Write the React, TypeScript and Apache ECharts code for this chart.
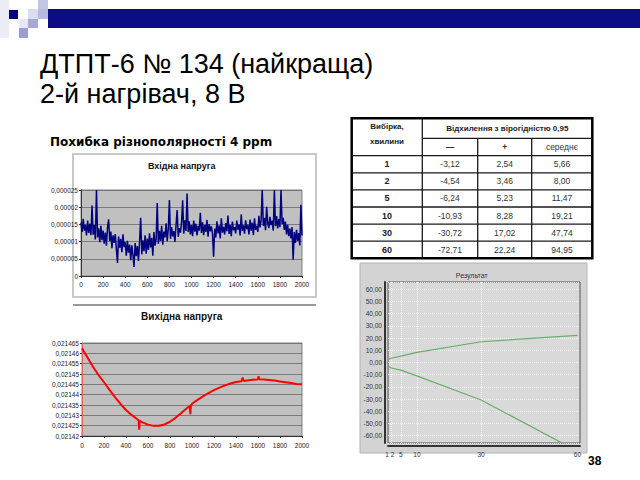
import React, { useEffect, useRef } from "react";
import * as echarts from "echarts";

// ---------- DATA ----------
const TITLE_LINES = ["ДТПТ-6 № 134 (найкраща)", "2-й нагрівач, 8 В"];
const SUBTITLE = "Похибка різнополярності 4 ppm";
const INPUT_TITLE = "Вхідна напруга";
const OUTPUT_TITLE = "Вихідна напруга";
const RESULT_TITLE = "Результат";
const PAGE_NUMBER = "38";

// Input voltage, in micro-units (x 1e-6), sampled every 10 points
const INPUT_STEP = 10;
const inputMicro = [
  15.5, 12.8, 16.6, 13.2, 14.9, 11.8, 16.1, 12.5, 15.2, 11.9,
  20.5, 12.0, 14.8, 10.6, 25.0, 11.2, 13.9, 9.8, 14.6, 10.4,
  13.2, 9.4, 12.6, 8.8, 14.1, 16.5, 10.2, 12.9, 8.1, 11.8,
  9.6, 12.2, 7.9, 3.8, 11.5, 8.2, 10.8, 6.9, 12.1, 8.4,
  9.8, 5.9, 10.2, 6.8, 9.1, 4.6, 8.9, 6.1, 2.6, 9.6,
  5.8, 8.7, 4.4, 9.9, 16.9, 6.3, 10.4, 7.2, 11.8, 6.5,
  10.9, 7.6, 12.4, 8.3, 11.1, 5.9, 12.8, 8.8, 10.6, 21.2,
  9.4, 13.1, 10.2, 14.6, 9.1, 12.9, 11.2, 15.3, 10.1, 13.6,
  22.1, 10.8, 14.2, 11.5, 13.1, 9.9, 14.8, 19.2, 11.4, 13.9,
  12.6, 15.7, 22.0, 12.3, 16.2, 13.1, 24.0, 12.8, 15.9, 12.1,
  14.8, 11.6, 16.1, 12.9, 15.2, 11.8, 14.6, 13.2, 18.4, 12.5,
  15.6, 11.9, 14.9, 12.8, 16.3, 11.4, 15.1, 13.0, 14.4, 12.2,
  5.6, 13.8, 11.2, 15.9, 12.4, 14.7, 10.9, 16.8, 12.6, 14.3,
  12.1, 15.4, 13.0, 17.6, 12.2, 14.9, 11.6, 15.8, 13.3, 14.2,
  12.4, 16.1, 13.5, 15.0, 11.8, 17.9, 13.1, 14.7, 12.3, 16.2,
  13.6, 14.9, 12.1, 16.4, 13.2, 15.5, 11.9, 16.8, 13.4, 14.6,
  12.8, 17.5, 14.1, 16.2, 25.0, 14.6, 16.9, 13.3, 20.1, 15.4,
  13.9, 17.2, 14.8, 16.1, 13.2, 25.0, 14.5, 17.4, 13.8, 16.6,
  14.2, 25.0, 15.1, 16.9, 13.4, 15.8, 12.1, 14.9, 11.6, 13.8,
  10.9, 14.2, 4.7, 12.8, 9.6, 13.4, 10.2, 12.5, 8.9, 20.7,
  11.8,
];

// Output voltage [sample, value x 1e-6]
const outputPoints: [number, number][] = [
  [0, 21462.4], [50, 21458], [100, 21453.5], [150, 21449.5], [200, 21446],
  [250, 21442.3], [300, 21438.8], [350, 21435.5], [400, 21432.6], [450, 21430.2],
  [500, 21428.2], [515, 21427.5], [520, 21423], [525, 21427.3], [550, 21426.6],
  [600, 21425.5], [650, 21424.9], [700, 21425], [750, 21425.6], [800, 21426.9],
  [850, 21428.8], [900, 21431], [950, 21433.3], [980, 21434.5], [985, 21430.5],
  [990, 21434.7], [1000, 21435.6], [1050, 21437.5], [1100, 21439.2], [1150, 21440.8],
  [1200, 21442.2], [1250, 21443.4], [1300, 21444.5], [1350, 21445.4], [1400, 21446.1],
  [1450, 21446.5], [1460, 21448.3], [1470, 21446.6], [1500, 21446.9], [1550, 21447.2],
  [1600, 21447.4], [1605, 21449], [1610, 21447.4], [1650, 21447.3], [1700, 21447.1],
  [1750, 21446.8], [1800, 21446.4], [1850, 21446], [1900, 21445.6], [1950, 21445.2],
  [2000, 21445],
];

// Table / result data
const sampleMinutes = [1, 2, 5, 10, 30, 60];
const devMinus = [-3.12, -4.54, -6.24, -10.93, -30.72, -72.71];
const devPlus = [2.54, 3.46, 5.23, 8.28, 17.02, 22.24];
const devMean = [5.66, 8.0, 11.47, 19.21, 47.74, 94.95];
const TABLE_HEAD_1 = "Вибірка,";
const TABLE_HEAD_1b = "хвилини";
const TABLE_HEAD_2 = "Відхилення з вірогідністю 0,95";
const TABLE_SUBHEADS = ["—", "+", "середнє"];
const resultGridX = [2, 5, 10, 30];

// ---------- HELPERS ----------
const ARIAL = '"Liberation Sans", Arial, sans-serif';
const comma2 = (v: number) => v.toFixed(2).replace(".", ",");
const microLabel = (v: number) =>
  v === 0 ? "0" : String(parseFloat((v / 1e6).toFixed(6))).replace(".", ",");
const plain = (v: number) => String(v);

const text = (
  t: string, x: number, y: number, font: string, fill = "#000",
  align = "left", z = 100
) => ({
  type: "text", x, y, z, silent: true,
  style: { text: t, font, fill, align, verticalAlign: "middle", textAlign: align, textVerticalAlign: "middle" },
});
const rect = (x: number, y: number, w: number, h: number, style: any, z = -10) => ({
  type: "rect", z, silent: true, shape: { x, y, width: w, height: h }, style,
});
const line = (x1: number, y1: number, x2: number, y2: number, stroke: string, lineWidth: number, z = 50) => ({
  type: "line", z, silent: true, shape: { x1, y1, x2, y2 }, style: { stroke, lineWidth },
});

function buildGraphics() {
  const g: any[] = [];
  // decoration
  g.push(rect(0, 0, 9, 38, { fill: "#ececf5" }, -20));
  g.push(rect(48, 9, 592, 19, { fill: "#0c0c84" }, -20));
  g.push(rect(38, 0, 10, 9, { fill: "#c4c4e4" }, -19));
  g.push(rect(28, 9, 10, 10, { fill: "#dcdcf0" }, -19));
  g.push(rect(38, 9, 10, 10, { fill: "#b8b8e0" }, -19));
  g.push(rect(9, 10, 9, 9, { fill: "#000080" }, -19));
  g.push(rect(19, 19, 9, 9, { fill: "#e6e6f4" }, -19));
  g.push(rect(28, 19, 10, 9, { fill: "#a8a8d8" }, -19));
  g.push(rect(19, 28, 9, 10, { fill: "#9c9cd0" }, -19));

  // titles
  g.push(text(TITLE_LINES[0], 40, 64, `27px ${ARIAL}`));
  g.push(text(TITLE_LINES[1], 40, 94, `27px ${ARIAL}`));
  g.push(text(SUBTITLE, 50, 141.5, 'bold 12px "DejaVu Sans", sans-serif'));

  // chart 1 frame
  g.push(rect(73, 154, 243, 143, { fill: "#fff", stroke: "#c8c8c8", lineWidth: 2 }, -10));
  g.push(text(INPUT_TITLE, 181.7, 166, `bold 9px ${ARIAL}`, "#111", "center"));
  // chart 2 top line
  g.push(line(73, 305, 316, 305, "#777", 1.5, -5));
  g.push(text(OUTPUT_TITLE, 181.7, 316.7, `bold 10px ${ARIAL}`, "#111", "center"));

  // result panel
  g.push(rect(360, 263, 227, 190, { fill: "#d3d3d3", stroke: "#b4b4b4", lineWidth: 1 }, -10));
  g.push(text(RESULT_TITLE, 471.7, 275, `7px ${ARIAL}`, "#333", "center"));

  // table
  const cols = [351.7, 422.3, 477.7, 531.7, 592.3];
  const top = 118.3, hdr1 = 138.3, hdr2 = 155.7, rowH = 17.1;
  const bottom = hdr2 + rowH * sampleMinutes.length;
  g.push(rect(cols[0], top, cols[4] - cols[0], bottom - top, { fill: "#fff" }, -10));
  const ink = "#1a1a1a";
  g.push(line(cols[1], hdr1, cols[4], hdr1, ink, 1.3));
  g.push(line(cols[0], hdr2, cols[4], hdr2, ink, 1.3));
  for (let i = 1; i < sampleMinutes.length; i++) {
    const y = hdr2 + rowH * i;
    g.push(line(cols[0], y, cols[4], y, ink, 1.3));
  }
  g.push(line(cols[1], top, cols[1], bottom, ink, 1.3));
  g.push(line(cols[2], hdr1, cols[2], bottom, ink, 1.3));
  g.push(line(cols[3], hdr1, cols[3], bottom, ink, 1.3));
  g.push(rect(cols[0], top, cols[4] - cols[0], bottom - top, { fill: "none", stroke: "#000", lineWidth: 2.5 }, 60));

  const cx = [0, 1, 2, 3].map((i) => (cols[i] + cols[i + 1]) / 2);
  const hb = `bold 8px ${ARIAL}`;
  g.push(text(TABLE_HEAD_1, cx[0], 126.7, hb, "#222", "center"));
  g.push(text(TABLE_HEAD_1b, cx[0], 141, hb, "#222", "center"));
  g.push(text(TABLE_HEAD_2, (cols[1] + cols[4]) / 2, 128, hb, "#222", "center"));
  TABLE_SUBHEADS.forEach((s, i) => g.push(text(s, cx[i + 1], 147, `${i === 2 ? "" : "bold "}8.5px ${ARIAL}`, "#333", "center")));
  sampleMinutes.forEach((m, r) => {
    const y = hdr2 + rowH * r + rowH / 2;
    g.push(text(String(m), cx[0], y, `bold 9px ${ARIAL}`, "#222", "center"));
    g.push(text(comma2(devMinus[r]), cx[1], y, `8.5px ${ARIAL}`, "#333", "center"));
    g.push(text(comma2(devPlus[r]), cx[2], y, `8.5px ${ARIAL}`, "#333", "center"));
    g.push(text(comma2(devMean[r]), cx[3], y, `8.5px ${ARIAL}`, "#333", "center"));
  });

  g.push(text(PAGE_NUMBER, 588, 460.5, `bold 12px ${ARIAL}`, "#000", "left"));
  return g;
}

function buildOption(): any {
  const small = { fontSize: 6.5, color: "#222", fontFamily: ARIAL };
  const green = "#6aae6a";
  return {
    animation: false,
    backgroundColor: "#fff",
    graphic: { elements: buildGraphics() },
    grid: [
      { left: 81, top: 190, width: 221, height: 86, show: true, backgroundColor: "#c0c0c0", borderColor: "#808080", borderWidth: 1 },
      { left: 82, top: 343, width: 220, height: 93, show: true, backgroundColor: "#c0c0c0", borderColor: "#808080", borderWidth: 1 },
      { left: 388, top: 282, width: 192, height: 161, show: true, backgroundColor: "#d9d9d9", borderColor: "#555", borderWidth: 1 },
    ],
    xAxis: [
      {
        gridIndex: 0, type: "value", min: 0, max: 2000, interval: 200,
        axisLine: { lineStyle: { color: "#333", width: 1 } },
        axisTick: { show: true, length: 2, lineStyle: { color: "#333" } },
        axisLabel: { ...small, margin: 5, formatter: plain },
        splitLine: { show: false },
      },
      {
        gridIndex: 1, type: "value", min: 0, max: 2000, interval: 200,
        axisLine: { lineStyle: { color: "#333", width: 1 } },
        axisTick: { show: true, length: 2, lineStyle: { color: "#333" } },
        axisLabel: { ...small, margin: 6, formatter: plain },
        splitLine: { show: false },
      },
      {
        gridIndex: 2, type: "value", min: 1, max: 60.8, offset: 3,
        axisLine: { onZero: false, lineStyle: { color: "#333", width: 2 } },
        axisTick: { show: false },
        axisLabel: {
          ...small, color: "#333", margin: 5, showMinLabel: true, hideOverlap: false,
          customValues: sampleMinutes.filter((m) => m !== 2),
          formatter: (v: number) => (v === 1 ? "  1 2" : String(v)),
        },
        splitLine: { show: false },
      },
    ],
    yAxis: [
      {
        gridIndex: 0, type: "value", min: 0, max: 25, interval: 5,
        axisLine: { show: true, lineStyle: { color: "#333", width: 1 } },
        axisTick: { show: true, length: 2, lineStyle: { color: "#333" } },
        axisLabel: { ...small, margin: 3, formatter: microLabel },
        splitLine: { lineStyle: { color: "#6a6a6a", width: 0.8 } },
      },
      {
        gridIndex: 1, type: "value", min: 21420, max: 21465, interval: 5,
        axisLine: { show: true, lineStyle: { color: "#e06a6a", width: 1.2 } },
        axisTick: { show: true, length: 2, lineStyle: { color: "#333" } },
        axisLabel: { ...small, margin: 3, formatter: microLabel },
        splitLine: { lineStyle: { color: "#6a6a6a", width: 0.8 } },
      },
      {
        gridIndex: 2, type: "value", min: -66, max: 66, splitNumber: 13, minInterval: 10, maxInterval: 10, offset: 3,
        axisLine: { show: true, onZero: false, lineStyle: { color: "#333", width: 2 } },
        axisTick: { show: false },
        axisLabel: { ...small, color: "#333", margin: 3, showMinLabel: false, showMaxLabel: false, formatter: (v: number) => comma2(v) },
        splitLine: { lineStyle: { color: "#f4f4f4", width: 1, type: "dotted" } },
      },
    ],
    series: [
      {
        type: "line", xAxisIndex: 0, yAxisIndex: 0, showSymbol: false, silent: true,
        data: inputMicro.map((v, i) => [i * INPUT_STEP, v]),
        lineStyle: { color: "#000080", width: 1.5 },
      },
      {
        type: "line", xAxisIndex: 1, yAxisIndex: 1, showSymbol: false, silent: true,
        data: outputPoints,
        lineStyle: { color: "#ff0000", width: 2 },
      },
      {
        type: "line", xAxisIndex: 2, yAxisIndex: 2, showSymbol: false, silent: true,
        data: sampleMinutes.map((m, i) => [m, devPlus[i]]),
        lineStyle: { color: green, width: 1.2 },
        markLine: {
          silent: true, symbol: "none", label: { show: false },
          lineStyle: { color: "#f4f4f4", width: 1, type: "dotted" },
          data: resultGridX.map((x) => ({ xAxis: x })),
          z: 1,
        },
      },
      {
        type: "line", xAxisIndex: 2, yAxisIndex: 2, showSymbol: false, silent: true,
        data: sampleMinutes.map((m, i) => [m, devMinus[i]]),
        lineStyle: { color: green, width: 1.2 },
      },
    ],
  };
}

export default function App() {
  const ref = useRef<HTMLDivElement>(null);
  useEffect(() => {
    if (!ref.current) return;
    const chart = echarts.init(ref.current, null, { renderer: "svg" });
    chart.setOption(buildOption());
    return () => chart.dispose();
  }, []);
  return (
    <div
      ref={ref}
      style={{ position: "absolute", left: 0, top: 0, width: 640, height: 480, background: "#fff" }}
    />
  );
}
